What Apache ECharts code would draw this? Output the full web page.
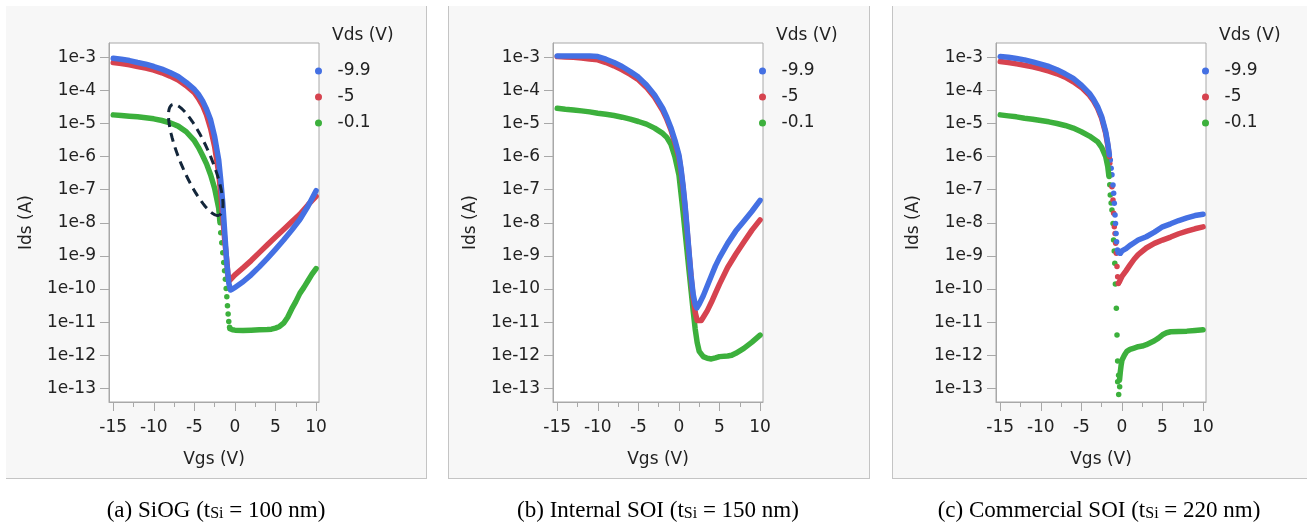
<!DOCTYPE html>
<html>
<head>
<meta charset="utf-8">
<script src="https://cdn.jsdelivr.net/npm/echarts@6/dist/echarts.min.js"></script>
<style>
html,body{margin:0;padding:0;background:#fff;}
#chart{width:1307px;height:529px;}
</style>
</head>
<body>
<div id="chart"></div>
<script>
// ---------- DATA (Vgs in V, values are log10 of Ids in A) ----------
const seriesNames = ['-9.9', '-5', '-0.1'];
const panelCaptions = [
  ['(a) SiOG (t', 'Si', ' = 100 nm)'],
  ['(b) Internal SOI (t', 'Si', ' = 150 nm)'],
  ['(c) Commercial SOI (t', 'Si', ' = 220 nm)']
];
const xTickLabels = [-15, -10, -5, 0, 5, 10];
const xMinorTicks = [-12.5, -7.5, -2.5, 2.5, 7.5];
const yTickLabels = [-13, -12, -11, -10, -9, -8, -7, -6, -5, -4, -3];

// Panel (a) SiOG
const a_vds99 = [[-15,-3.03],[-14,-3.06],[-13,-3.10],[-12,-3.16],[-11,-3.21],[-10,-3.28],[-9,-3.36],[-8,-3.46],[-7,-3.58],[-6,-3.76],[-5,-3.97],[-4.5,-4.12],[-4,-4.31],[-3.5,-4.57],[-3,-4.89],[-2.5,-5.40],[-2,-6.10],[-1.75,-6.71],[-1.5,-7.41],[-1.25,-8.32],[-1.0,-9.22],[-0.75,-9.83],[-0.55,-10.03],[-0.3,-10.0],[0,-9.95],[1,-9.78],[2,-9.57],[3,-9.33],[4,-9.07],[5,-8.8],[6,-8.52],[7,-8.22],[8,-7.9],[9,-7.5],[10,-7.03]];
const a_vds5 = [[-15,-3.16],[-14,-3.19],[-13,-3.23],[-12,-3.28],[-11,-3.33],[-10,-3.39],[-9,-3.47],[-8,-3.57],[-7,-3.69],[-6,-3.86],[-5,-4.07],[-4.5,-4.24],[-4,-4.45],[-3.5,-4.74],[-3,-5.15],[-2.5,-5.70],[-2,-6.50],[-1.75,-7.11],[-1.5,-7.81],[-1.25,-8.55],[-1.0,-9.15],[-0.85,-9.6],[-0.7,-9.75],[-0.5,-9.7],[0,-9.57],[1,-9.36],[2,-9.14],[3,-8.9],[4,-8.66],[5,-8.43],[6,-8.2],[7,-7.97],[8,-7.74],[9,-7.46],[10,-7.2]];
const a_vds01_on = [[-15,-4.74],[-14,-4.76],[-13,-4.78],[-12,-4.80],[-11,-4.83],[-10,-4.86],[-9,-4.91],[-8,-4.98],[-7,-5.08],[-6,-5.25],[-5,-5.52],[-4.5,-5.72],[-4,-5.96],[-3.5,-6.22],[-3,-6.55],[-2.5,-6.96],[-2,-7.56],[-1.84,-8.0]];
const a_vds01_dots = [[-1.75,-8.3],[-1.62,-8.6],[-1.5,-8.9],[-1.38,-9.2],[-1.28,-9.45],[-1.18,-9.7],[-1.08,-9.98],[-1.0,-10.23],[-0.92,-10.5],[-0.84,-10.75],[-0.76,-10.98],[-0.66,-11.15]];
const a_vds01_off = [[-0.6,-11.2],[-0.3,-11.23],[0,-11.24],[1,-11.25],[2,-11.24],[3,-11.23],[4,-11.22],[4.5,-11.21],[5,-11.18],[5.5,-11.13],[6,-11.03],[6.5,-10.85],[7,-10.6],[7.5,-10.38],[8,-10.13],[8.5,-9.95],[9,-9.75],[9.5,-9.55],[10,-9.38]];

// Panel (b) Internal SOI
const b_vds99 = [[-15,-2.96],[-14,-2.96],[-13,-2.96],[-12,-2.96],[-11,-2.96],[-10,-2.98],[-9,-3.06],[-8,-3.16],[-7,-3.28],[-6,-3.43],[-5,-3.60],[-4,-3.84],[-3,-4.14],[-2,-4.54],[-1.5,-4.81],[-1,-5.12],[-0.5,-5.5],[0,-5.95],[0.25,-6.35],[0.5,-6.85],[0.75,-7.45],[1.0,-8.15],[1.25,-8.9],[1.5,-9.6],[1.75,-10.15],[2.0,-10.45],[2.2,-10.57],[2.5,-10.45],[3,-10.2],[3.5,-9.9],[4,-9.6],[4.5,-9.3],[5,-9.05],[6,-8.62],[7,-8.25],[8,-7.95],[9,-7.65],[10,-7.32]];
const b_vds5 = [[-15,-2.98],[-14,-2.99],[-13,-3.0],[-12,-3.02],[-11,-3.05],[-10,-3.08],[-9,-3.16],[-8,-3.26],[-7,-3.38],[-6,-3.52],[-5,-3.68],[-4,-3.91],[-3,-4.21],[-2,-4.61],[-1.5,-4.87],[-1,-5.18],[-0.5,-5.58],[0,-6.02],[0.25,-6.42],[0.5,-6.92],[0.75,-7.52],[1.0,-8.22],[1.25,-8.95],[1.5,-9.65],[1.75,-10.25],[2.0,-10.7],[2.25,-10.95],[2.45,-11.0],[2.75,-10.95],[3,-10.85],[3.5,-10.65],[4,-10.4],[4.5,-10.12],[5,-9.85],[6,-9.35],[7,-8.95],[8,-8.58],[9,-8.22],[10,-7.91]];
const b_vds01 = [[-15,-4.54],[-14,-4.57],[-13,-4.59],[-12,-4.62],[-11,-4.65],[-10,-4.69],[-9,-4.72],[-8,-4.76],[-7,-4.81],[-6,-4.87],[-5,-4.94],[-4,-5.02],[-3,-5.14],[-2,-5.3],[-1.5,-5.42],[-1,-5.62],[-0.5,-6.0],[0,-6.55],[0.25,-7.1],[0.5,-7.65],[0.75,-8.25],[1.0,-8.85],[1.25,-9.45],[1.5,-10.05],[1.75,-10.65],[2.0,-11.2],[2.25,-11.62],[2.5,-11.88],[3,-12.04],[3.5,-12.09],[4,-12.11],[4.5,-12.08],[5,-12.04],[6,-12.02],[6.5,-12.0],[7,-11.94],[8,-11.79],[9,-11.6],[10,-11.39]];

// Panel (c) Commercial SOI
const c_vds99_on = [[-15,-2.98],[-14,-3.0],[-13,-3.04],[-12,-3.08],[-11,-3.14],[-10,-3.21],[-9,-3.28],[-8,-3.38],[-7,-3.50],[-6,-3.64],[-5,-3.84],[-4,-4.09],[-3.5,-4.27],[-3,-4.49],[-2.5,-4.79],[-2,-5.25],[-1.75,-5.6],[-1.55,-5.95]];
const c_vds99_dots = [[-1.43,-6.1],[-1.33,-6.35],[-1.23,-6.55],[-1.1,-6.86],[-1.02,-7.11],[-0.94,-7.41],[-0.85,-7.76],[-0.79,-8.02],[-0.72,-8.32],[-0.66,-8.57],[-0.55,-8.82]];
const c_vds99_off = [[-0.45,-8.9],[-0.2,-8.92],[0,-8.85],[0.5,-8.78],[1,-8.68],[1.5,-8.6],[2,-8.52],[3,-8.42],[4,-8.28],[5,-8.12],[6,-8.03],[7,-7.93],[8,-7.85],[9,-7.78],[10,-7.74]];
const c_vds5_on = [[-15,-3.13],[-14,-3.16],[-13,-3.20],[-12,-3.24],[-11,-3.29],[-10,-3.35],[-9,-3.42],[-8,-3.50],[-7,-3.60],[-6,-3.74],[-5,-3.91],[-4,-4.15],[-3.5,-4.32],[-3,-4.54],[-2.5,-4.84],[-2,-5.30],[-1.75,-5.65],[-1.55,-6.0]];
const c_vds5_dots = [[-1.5,-6.2],[-1.35,-6.55],[-1.23,-6.91],[-1.1,-7.31],[-1.02,-7.71],[-0.94,-8.12],[-0.85,-8.32],[-0.77,-8.62],[-0.69,-8.92],[-0.61,-9.32],[-0.53,-9.63],[-0.45,-9.83]];
const c_vds5_off = [[-0.35,-9.8],[-0.2,-9.72],[0,-9.62],[0.5,-9.45],[1,-9.27],[1.5,-9.1],[2,-8.96],[3,-8.76],[4,-8.62],[5,-8.52],[6,-8.43],[7,-8.33],[8,-8.25],[9,-8.18],[10,-8.12]];
const c_vds01_on = [[-15,-4.74],[-14,-4.77],[-13,-4.80],[-12,-4.84],[-11,-4.87],[-10,-4.91],[-9,-4.95],[-8,-5.0],[-7,-5.06],[-6,-5.14],[-5,-5.25],[-4,-5.38],[-3,-5.55],[-2.5,-5.72],[-2,-6.0],[-1.75,-6.3],[-1.6,-6.6]];
const c_vds01_dots = [[-1.5,-6.85],[-1.44,-7.16],[-1.33,-7.4],[-1.23,-7.61],[-1.1,-8.02],[-1.03,-8.52],[-0.95,-8.85],[-0.88,-9.22],[-0.81,-9.85],[-0.69,-10.58],[-0.61,-11.39],[-0.53,-12.17],[-0.53,-12.8],[-0.41,-12.6],[-0.28,-12.95],[-0.4,-13.18]];
const c_vds01_off = [[-0.3,-12.75],[-0.2,-12.5],[-0.1,-12.3],[0,-12.15],[0.3,-12.0],[0.6,-11.88],[1,-11.82],[1.5,-11.78],[2,-11.74],[2.5,-11.72],[3,-11.68],[3.5,-11.62],[4,-11.56],[4.5,-11.48],[5,-11.38],[5.5,-11.32],[6,-11.29],[7,-11.28],[8,-11.27],[9,-11.25],[10,-11.23]];

// annotation ellipse centre in panel (a) data space [Vgs, log10 Ids]
const ellipseCenter = [-4.83, -6.10];

// ---------- STYLE / LAYOUT ----------
const FONT = "'DejaVu Sans', 'Noto Sans', sans-serif";
const SERIF = "'Liberation Serif', 'Times New Roman', serif";
const COLORS = {'-9.9': '#4470e3', '-5': '#d6434f', '-0.1': '#3cb03c'};
const LW = 5.5, DOT = 5.5;
const gridLefts = [109, 553, 996];
const GRID_TOP = 43, GRID_W = 210, GRID_H = 359;
const XMIN = -15.52, XMAX = 10.36, YMIN = -13.41, YMAX = -2.57;
const AXIS_GRAY = '#a8a8a8', TEXT = '#222';
const FS = 17;

const panels = [
  {curves: [
    {name: '-0.1', lines: [a_vds01_on, a_vds01_off], dots: a_vds01_dots},
    {name: '-5', lines: [a_vds5], dots: null},
    {name: '-9.9', lines: [a_vds99], dots: null}
  ]},
  {curves: [
    {name: '-0.1', lines: [b_vds01], dots: null},
    {name: '-5', lines: [b_vds5], dots: null},
    {name: '-9.9', lines: [b_vds99], dots: null}
  ]},
  {curves: [
    {name: '-0.1', lines: [c_vds01_on, c_vds01_off], dots: c_vds01_dots},
    {name: '-5', lines: [c_vds5_on, c_vds5_off], dots: c_vds5_dots},
    {name: '-9.9', lines: [c_vds99_on, c_vds99_off], dots: c_vds99_dots}
  ]}
];

const grids = [], xAxes = [], yAxes = [], series = [], legends = [], titles = [];
panels.forEach((p, i) => {
  const L = gridLefts[i];
  grids.push({left: L, top: GRID_TOP, width: GRID_W, height: GRID_H, show: true,
    backgroundColor: '#ffffff', borderColor: AXIS_GRAY, borderWidth: 1});
  xAxes.push({gridIndex: i, type: 'value', position: 'bottom', min: XMIN, max: XMAX,
    name: 'Vgs (V)', nameLocation: 'middle', nameGap: 49,
    nameTextStyle: {fontFamily: FONT, fontSize: FS, color: TEXT},
    axisLine: {show: true, onZero: false, lineStyle: {color: AXIS_GRAY, width: 1}},
    axisTick: {show: true, customValues: xTickLabels, length: 9, lineStyle: {color: AXIS_GRAY}},
    axisLabel: {customValues: xTickLabels, margin: 17, fontFamily: FONT, fontSize: FS, color: TEXT},
    splitLine: {show: false}});
  yAxes.push({gridIndex: i, type: 'value', min: YMIN, max: YMAX,
    name: 'Ids (A)', nameLocation: 'middle', nameGap: 74, nameRotate: 90,
    nameTextStyle: {fontFamily: FONT, fontSize: FS, color: TEXT},
    axisLine: {show: true, onZero: false, lineStyle: {color: AXIS_GRAY, width: 1}},
    axisTick: {show: true, customValues: yTickLabels, length: 9, lineStyle: {color: AXIS_GRAY}},
    axisLabel: {customValues: yTickLabels, margin: 13, fontFamily: FONT, fontSize: FS, color: TEXT,
      formatter: v => '1e' + Math.round(v)},
    splitLine: {show: false}});
  p.curves.forEach(c => {
    const col = COLORS[c.name];
    c.lines.forEach(d => series.push({type: 'line', name: c.name, xAxisIndex: i, yAxisIndex: i,
      data: d, showSymbol: false, symbol: 'circle', smooth: false, silent: true, animation: false,
      lineStyle: {width: LW, color: col, cap: 'round', join: 'round'}, itemStyle: {color: col},
      emphasis: {disabled: true}}));
    if (c.dots) series.push({type: 'scatter', name: c.name, xAxisIndex: i, yAxisIndex: i,
      data: c.dots, symbol: 'circle', symbolSize: DOT, silent: true, animation: false,
      itemStyle: {color: col, opacity: 1}, emphasis: {disabled: true}});
  });
  legends.push({orient: 'vertical', left: L + 201, top: 56, icon: 'circle',
    itemWidth: 28, itemHeight: 7, symbolKeepAspect: true, itemGap: 6,
    data: seriesNames, selectedMode: false,
    textStyle: {fontFamily: FONT, fontSize: FS, color: TEXT, lineHeight: 20}});
  titles.push({text: 'Vds (V)', left: L + 218, top: 22,
    textStyle: {fontFamily: FONT, fontSize: FS, fontWeight: 'normal', color: TEXT}});
});
// minor x ticks (shorter), one extra x axis per grid
panels.forEach((p, i) => {
  xAxes.push({gridIndex: i, type: 'value', position: 'bottom', min: XMIN, max: XMAX,
    axisLine: {show: false, onZero: false},
    axisTick: {show: true, customValues: xMinorTicks, length: 5, lineStyle: {color: AXIS_GRAY}},
    axisLabel: {show: false}, splitLine: {show: false}});
});

// Panel backgrounds and captions
const panelBoxes = [[6, 420, 'rb'], [448, 421, 'lrb'], [892, 420, 'lb']];
const graphics = [];
panelBoxes.forEach((b, i) => {
  const [x, w, sides] = b;
  graphics.push({type: 'rect', id: 'bg' + i, z: -10, shape: {x: x, y: 6, width: w, height: 472},
    style: {fill: '#f7f7f7'}, silent: true});
  const segs = [];
  if (sides.includes('l')) segs.push([x + 0.5, 6, x + 0.5, 478.5]);
  if (sides.includes('r')) segs.push([x + w + 0.5, 6, x + w + 0.5, 478.5]);
  if (sides.includes('b')) segs.push([x, 478.5, x + w + 1, 478.5]);
  segs.forEach((s, k) => graphics.push({type: 'line', id: 'bd' + i + '_' + k, z: -9, silent: true,
    shape: {x1: s[0], y1: s[1], x2: s[2], y2: s[3]}, style: {stroke: '#c4c4c4', lineWidth: 1}}));
});
const captionCenters = [216, 658, 1099];
panelCaptions.forEach((cap, i) => {
  graphics.push({type: 'text', id: 'cap' + i, x: captionCenters[i], y: 508, silent: true,
    style: {text: '{n|' + cap[0] + '}{s|' + cap[1] + '}{n|' + cap[2] + '}',
      align: 'center', verticalAlign: 'middle',
      rich: {
        n: {fontFamily: SERIF, fontSize: 23, fill: '#000', lineHeight: 28, verticalAlign: 'bottom'},
        s: {fontFamily: SERIF, fontSize: 16, fill: '#000', lineHeight: 16, verticalAlign: 'bottom'}
      }}});
});

const chart = echarts.init(document.getElementById('chart'), null, {renderer: 'canvas'});
const option = {
  animation: false,
  backgroundColor: '#ffffff',
  title: titles,
  legend: legends,
  grid: grids,
  xAxis: xAxes,
  yAxis: yAxes,
  series: series,
  graphic: graphics
};
chart.setOption(option);

// dashed ellipse annotation in panel (a)
const cpx = chart.convertToPixel({xAxisIndex: 0, yAxisIndex: 0}, ellipseCenter);
const A = 60, B = 15, dx = 0.392, dy = 0.920;
const pts = [];
for (let k = 0; k <= 90; k++) {
  const t = k / 90 * 2 * Math.PI;
  const u = Math.cos(t) * A, v = Math.sin(t) * B;
  pts.push([cpx[0] + u * dx - v * dy, cpx[1] + u * dy + v * dx]);
}
chart.setOption({graphic: graphics.concat([{type: 'polyline', id: 'ellipse', z: 100, silent: true,
  shape: {points: pts}, style: {fill: null, stroke: '#13263a', lineWidth: 3, lineDash: [9, 6]}}])});
</script>
</body>
</html>
